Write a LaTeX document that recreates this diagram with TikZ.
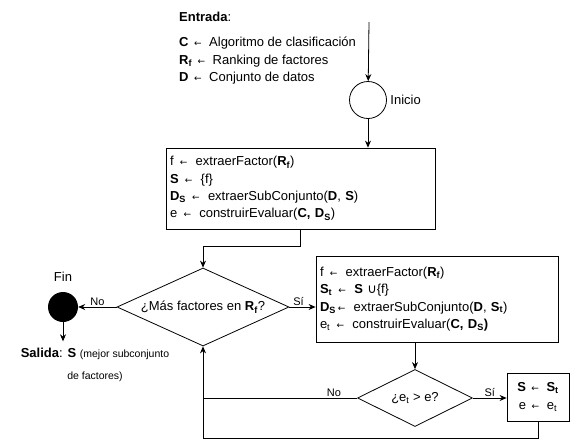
\documentclass[tikz,border=0pt]{standalone}
\usepackage{fontspec}
\setmainfont{Liberation Sans}
\newfontfamily\symfont{DejaVu Sans}
\usetikzlibrary{shapes.geometric,arrows.meta}
\newcommand{\asig}{\hspace{0.15em}{\symfont\small ←}\hspace{0.3em}}
\newcommand{\union}{{\symfont ∪}}
\newcommand{\nota}{\fontsize{10.5}{13}\selectfont}
\tikzset{
  every node/.style={font=\fontsize{13}{17.3}\selectfont},
  flecha/.style={-{Stealth[length=7pt,width=6pt]}, line width=0.8pt},
  linea/.style={line width=0.8pt},
  bloque/.style={draw, line width=0.8pt, rectangle, align=left, inner sep=4pt},
  decision/.style={draw, line width=0.8pt, diamond, inner sep=0pt},
  etiqueta/.style={font=\fontsize{11}{13}\selectfont, inner sep=1pt},
}
\begin{document}
\begin{tikzpicture}[x=1pt, y=-1pt]
\useasboundingbox (0,0) rectangle (571,440);
% entrada
\node[anchor=west, inner sep=0pt] (entrada) at (179,17) {\textbf{Entrada}:};
\node[anchor=north west, align=left, inner sep=0pt] (datos) at (179,37)
  {\textbf{C} \asig{} Algoritmo de clasificación\\
   \textbf{R\textsubscript{f}} \asig{} Ranking de factores\\
   \textbf{D} \asig{} Conjunto de datos};
\coordinate (ini) at (369,22);
\node[draw, circle, line width=0.8pt, minimum size=37pt] (inicio) at (368,100) {};
\node[anchor=west] (inicio txt) at (inicio.east) {Inicio};
% primer factor
\node[bloque, minimum width=269pt, minimum height=81pt, text width=261pt] (paso1) at (300.5,188.5)
  {f \asig{} extraerFactor(\textbf{R\textsubscript{f}})\\
   \textbf{S} \asig{} \{f\}\\
   \textbf{D\textsubscript{S}} \asig{} extraerSubConjunto(\textbf{D}, \textbf{S})\\
   e \asig{} construirEvaluar(\textbf{C, D\textsubscript{S}})};
\node[decision, minimum width=172pt, minimum height=78pt, aspect=2.2] (masf) at (203,307)
  {¿Más factores en \textbf{R\textsubscript{f}}?};
\node[circle, fill=black, minimum size=30pt, inner sep=0pt] (fin) at (63,307) {};
\node (fin txt) at (63,277) {Fin};
\node[inner sep=0pt] (salida) at (95,364)
  {\renewcommand{\arraystretch}{1.3}%
   \begin{tabular}{@{}c@{}}
   \textbf{Salida}: \textbf{S} {\nota (mejor subconjunto}\\
   {\nota de factores)}
   \end{tabular}};
% bucle
\node[bloque, minimum width=242pt, minimum height=86pt, text width=234pt] (paso2) at (437,299)
  {f \asig{} extraerFactor(\textbf{R\textsubscript{f}})\\
   \textbf{S\textsubscript{t}} \asig{} \textbf{S} \union\{f\}\\
   \textbf{D\textsubscript{S}}\asig{} extraerSubConjunto(\textbf{D}, \textbf{S\textsubscript{t}})\\
   e\textsubscript{t} \asig{} construirEvaluar(\textbf{C, D\textsubscript{S})}};
\node[decision, minimum width=115pt, minimum height=57pt, aspect=2] (mejora) at (415,398)
  {¿e\textsubscript{t} > e?};
\node[bloque, align=center, minimum width=62pt, minimum height=48pt] (actualiza) at (538,397)
  {\textbf{S} \asig{} \textbf{S\textsubscript{t}}\\ e \asig{} e\textsubscript{t}};
% conectores
\draw[flecha] (ini) -- (inicio);
\draw[flecha] (inicio) -- (inicio.south |- paso1.north);
\draw[flecha] (paso1.south) -- ++(0,17) -| (masf.north);
\draw[flecha] (masf.east) -- node[etiqueta, above, pos=0.35] {Sí} (paso2.west |- masf.east);
\draw[flecha] (masf.west) -- node[etiqueta, above] {No} (fin);
\draw[flecha] (fin) -- (fin.south |- salida.north);
\draw[flecha] (mejora.north |- paso2.south) -- (mejora.north);
\draw[flecha] (mejora.east) -- node[etiqueta, above] {Sí} (actualiza.west |- mejora.east);
\draw[linea] (mejora.west) -- node[etiqueta, above, pos=0.15] {No} (mejora.west -| masf.south);
\draw[flecha] (actualiza.south) -- ++(0,17) -| (masf.south);
\end{tikzpicture}
\end{document}
